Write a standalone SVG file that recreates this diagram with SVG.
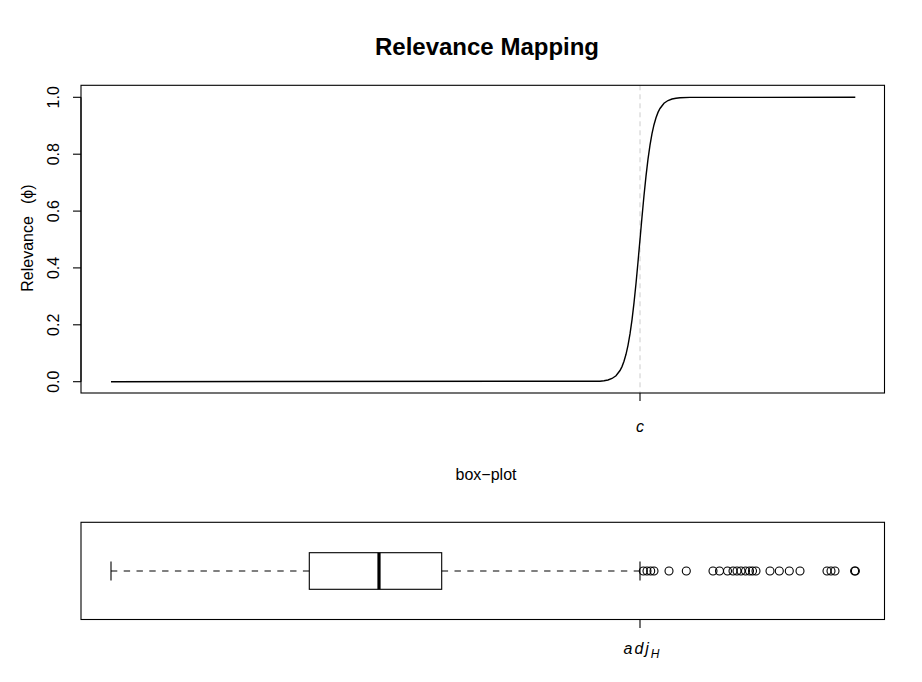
<svg xmlns="http://www.w3.org/2000/svg" width="922" height="682" viewBox="0 0 922 682">
<style>
  .frame { fill: none; stroke: #000; stroke-width: 1.1; }
  .tick { stroke: #000; stroke-width: 1.1; }
  .lbl { font-family: "Liberation Sans", Arial, sans-serif; font-size: 16px; fill: #000; }
  .title { font-family: "Liberation Sans", Arial, sans-serif; font-size: 24px; font-weight: bold; fill: #000; }
  .it { font-style: italic; }
  .out { fill: none; stroke: #000; stroke-width: 1.1; }
  .whisk { stroke: #000; stroke-width: 1.1; stroke-dasharray: 6.4 6.4; }
</style>
<rect width="922" height="682" fill="#fff"/>

<g id="title">
  <text class="title" x="487" y="55" text-anchor="middle">Relevance Mapping</text>
</g>

<g id="relevance-plot">
  <line x1="640" y1="85.3" x2="640" y2="393" stroke="#cccccc" stroke-width="1" stroke-dasharray="5 4"/>
  <polyline fill="none" stroke="#000" stroke-width="1.4" points="111,381.7 600,381.2 604,380.8 608,380.0 612,378.5 616,375.7 620,370.5 622,366.6 624,361.3 626,354.3 628,345.3 630,333.9 632,319.8 634,302.9 636,283.5 638,262.0 640,239.5 642,217.0 644,195.5 646,176.1 648,159.2 650,145.1 652,133.7 654,124.7 656,117.7 658,112.4 660,108.5 664,103.3 668,100.5 672,99.0 676,98.2 680,97.8 690,97.4 855.3,97.3"/>
  <rect class="frame" x="81" y="85.3" width="803.5" height="307.7"/>
  <g id="y-axis">
    <line class="tick" x1="81" y1="97.3" x2="81" y2="381.7"/>
    <line class="tick" x1="73" y1="97.3" x2="81" y2="97.3"/>
    <line class="tick" x1="73" y1="154.2" x2="81" y2="154.2"/>
    <line class="tick" x1="73" y1="211.1" x2="81" y2="211.1"/>
    <line class="tick" x1="73" y1="267.9" x2="81" y2="267.9"/>
    <line class="tick" x1="73" y1="324.8" x2="81" y2="324.8"/>
    <line class="tick" x1="73" y1="381.7" x2="81" y2="381.7"/>
    <text class="lbl" transform="translate(59,97.3) rotate(-90)" text-anchor="middle">1.0</text>
    <text class="lbl" transform="translate(59,154.2) rotate(-90)" text-anchor="middle">0.8</text>
    <text class="lbl" transform="translate(59,211.1) rotate(-90)" text-anchor="middle">0.6</text>
    <text class="lbl" transform="translate(59,267.9) rotate(-90)" text-anchor="middle">0.4</text>
    <text class="lbl" transform="translate(59,324.8) rotate(-90)" text-anchor="middle">0.2</text>
    <text class="lbl" transform="translate(59,381.7) rotate(-90)" text-anchor="middle">0.0</text>
    <text class="lbl" transform="translate(33.3,291.7) rotate(-90)">Relevance<tspan dx="12">(ϕ)</tspan></text>
  </g>
  <g id="x-axis-c">
    <line class="tick" x1="640" y1="393" x2="640" y2="401"/>
    <text class="lbl it" x="640" y="432" text-anchor="middle">c</text>
  </g>
</g>

<g id="boxplot-label">
  <text class="lbl" x="486" y="480" text-anchor="middle">box−plot</text>
</g>

<g id="boxplot">
  <rect class="frame" x="81" y="522.3" width="803.5" height="97.2"/>
  <line class="whisk" x1="309.3" y1="571" x2="111" y2="571"/>
  <line class="whisk" x1="441.7" y1="571" x2="640" y2="571"/>
  <line class="tick" x1="111" y1="561.5" x2="111" y2="580.5"/>
  <line class="tick" x1="640" y1="561.5" x2="640" y2="580.5"/>
  <rect class="frame" x="309.3" y="552.7" width="132.4" height="36.6"/>
  <line x1="379" y1="552.7" x2="379" y2="589.3" stroke="#000" stroke-width="3.2"/>
  <g id="outliers">
    <circle class="out" cx="643.3" cy="571" r="4"/>
    <circle class="out" cx="647" cy="571" r="4"/>
    <circle class="out" cx="650.7" cy="571" r="4"/>
    <circle class="out" cx="654" cy="571" r="4"/>
    <circle class="out" cx="669" cy="571" r="4"/>
    <circle class="out" cx="686.3" cy="571" r="4"/>
    <circle class="out" cx="713" cy="571" r="4"/>
    <circle class="out" cx="719.5" cy="571" r="4"/>
    <circle class="out" cx="727.5" cy="571" r="4"/>
    <circle class="out" cx="733" cy="571" r="4"/>
    <circle class="out" cx="737" cy="571" r="4"/>
    <circle class="out" cx="741" cy="571" r="4"/>
    <circle class="out" cx="745.5" cy="571" r="4"/>
    <circle class="out" cx="749.5" cy="571" r="4"/>
    <circle class="out" cx="752.5" cy="571" r="4"/>
    <circle class="out" cx="756" cy="571" r="4"/>
    <circle class="out" cx="770" cy="571" r="4"/>
    <circle class="out" cx="779.3" cy="571" r="4"/>
    <circle class="out" cx="789.3" cy="571" r="4"/>
    <circle class="out" cx="800" cy="571" r="4"/>
    <circle class="out" cx="827" cy="571" r="4"/>
    <circle class="out" cx="831" cy="571" r="4"/>
    <circle class="out" cx="835" cy="571" r="4"/>
    <circle class="out" cx="854.6" cy="571" r="4" stroke-width="2"/>
    <circle class="out" cx="855.4" cy="571" r="4" stroke-width="2"/>
  </g>
  <g id="x-axis-adj">
    <line class="tick" x1="640" y1="619.5" x2="640" y2="628"/>
    <text class="lbl it" x="623.5" y="653.5" letter-spacing="2">adj<tspan font-size="12" dy="4" letter-spacing="0">H</tspan></text>
  </g>
</g>
</svg>
